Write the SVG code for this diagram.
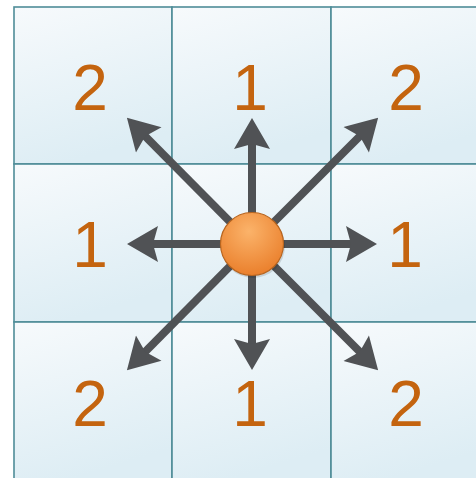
<svg xmlns="http://www.w3.org/2000/svg" width="476" height="478" viewBox="0 0 476 478">
  <defs>
    <linearGradient id="cellGrad" x1="0" y1="0" x2="0.3" y2="1">
      <stop offset="0" stop-color="#f7fafc"/>
      <stop offset="1" stop-color="#ddedf4"/>
    </linearGradient>
    <radialGradient id="ballGrad" cx="0.45" cy="0.3" r="0.75">
      <stop offset="0" stop-color="#fbb36a"/>
      <stop offset="1" stop-color="#e97c28"/>
    </radialGradient>
    <marker id="head" markerUnits="userSpaceOnUse" viewBox="-12 -18 33 36" refX="0" refY="0" markerWidth="33" markerHeight="36" orient="auto">
      <path d="M20,0 L-11,-18 L-6,0 L-11,18 Z" fill="#505255"/>
    </marker>
  </defs>
  <style>
    .cell { fill: url(#cellGrad); stroke: #4f8d98; stroke-width: 1.6; }
    .arrow { stroke: #505255; stroke-width: 8; fill: none; marker-end: url(#head); }
    .num { font-family: "Liberation Sans", Arial, sans-serif; font-size: 64px; fill: #c4640f; text-anchor: middle; }
  </style>
  <rect x="0" y="0" width="476" height="478" fill="#ffffff"/>
  <g id="grid">
    <rect class="cell" x="14" y="7" width="158" height="157"/>
    <rect class="cell" x="172" y="7" width="159" height="157"/>
    <rect class="cell" x="331" y="7" width="158" height="157"/>
    <rect class="cell" x="14" y="164" width="158" height="158"/>
    <rect class="cell" x="172" y="164" width="159" height="158"/>
    <rect class="cell" x="331" y="164" width="158" height="158"/>
    <rect class="cell" x="14" y="322" width="158" height="160"/>
    <rect class="cell" x="172" y="322" width="159" height="160"/>
    <rect class="cell" x="331" y="322" width="158" height="160"/>
  </g>
  <g id="connectors">
    <line class="arrow" x1="252" y1="244" x2="252" y2="138"/>
    <line class="arrow" x1="252" y1="244" x2="252" y2="350"/>
    <line class="arrow" x1="252" y1="244" x2="147" y2="244"/>
    <line class="arrow" x1="252" y1="244" x2="357" y2="244"/>
    <line class="arrow" x1="252" y1="244" x2="141" y2="132"/>
    <line class="arrow" x1="252" y1="244" x2="364" y2="132"/>
    <line class="arrow" x1="252" y1="244" x2="364" y2="356"/>
    <line class="arrow" x1="252" y1="244" x2="141" y2="356"/>
  </g>
  <g id="center">
    <circle cx="253" cy="246" r="32" fill="#000" opacity="0.12"/>
    <circle cx="252" cy="244" r="31.5" fill="url(#ballGrad)" stroke="#b8651f" stroke-width="1.2"/>
  </g>
  <g id="label-tl"><text class="num" x="90" y="110">2</text></g>
  <g id="label-tc"><text class="num" x="250" y="110">1</text></g>
  <g id="label-tr"><text class="num" x="406" y="110">2</text></g>
  <g id="label-ml"><text class="num" x="90" y="267">1</text></g>
  <g id="label-mr"><text class="num" x="405" y="267">1</text></g>
  <g id="label-bl"><text class="num" x="90" y="426">2</text></g>
  <g id="label-bc"><text class="num" x="250" y="426">1</text></g>
  <g id="label-br"><text class="num" x="406" y="426">2</text></g>
</svg>
